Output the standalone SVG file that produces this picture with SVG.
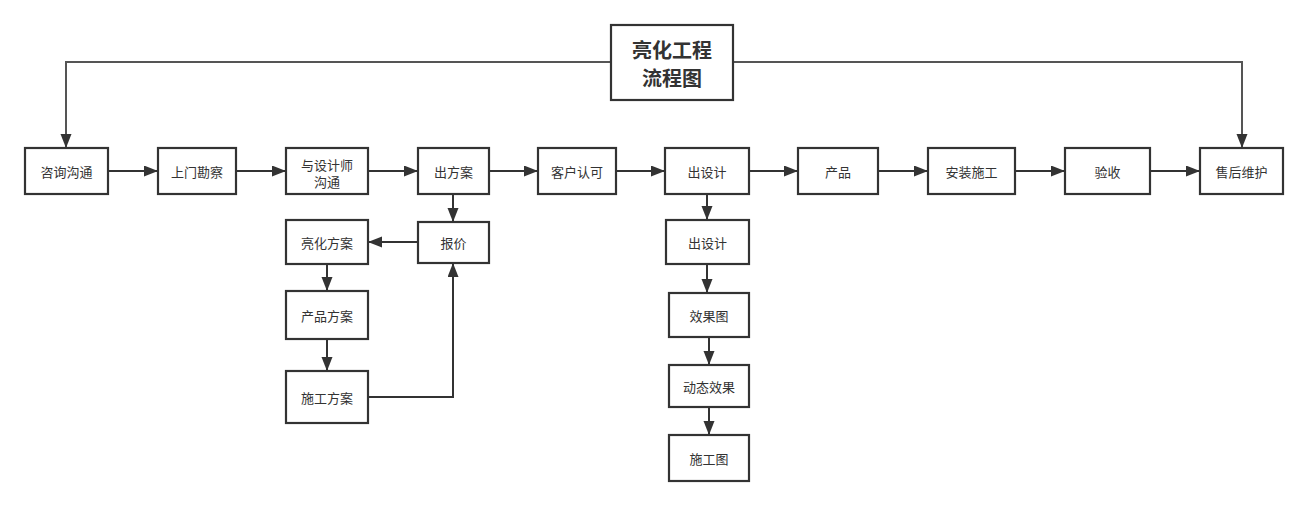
<svg xmlns="http://www.w3.org/2000/svg" width="1308" height="506" viewBox="0 0 1308 506">
<style>
.box{fill:#fff;stroke:#333;stroke-width:2.2}
.lbl{font-family:"Noto Sans CJK SC","Noto Sans",sans-serif;font-size:13px;fill:#333;text-anchor:middle;dominant-baseline:central}
.title{font-family:"Noto Sans CJK SC","Noto Sans",sans-serif;font-size:20px;font-weight:bold;fill:#333;text-anchor:middle;dominant-baseline:central}
.con{fill:none;stroke:#333;stroke-width:2;marker-end:url(#ah)}
.con2{fill:none;stroke:#555;stroke-width:2;marker-end:url(#ah)}
</style>
<defs>
<marker id="ah" markerUnits="userSpaceOnUse" markerWidth="15" markerHeight="12" refX="14" refY="5.5" orient="auto">
<path d="M0,0 L14,5.5 L0,11 z" fill="#333"/>
</marker>
</defs>
<rect width="1308" height="506" fill="#fff"/>
<g id="connectors">
<path class="con2" d="M611,62 H66 V148"/>
<path class="con2" d="M733,62 H1242 V148"/>
<path class="con" d="M108,171 H158"/>
<path class="con" d="M236,171 H286"/>
<path class="con" d="M368,171 H418"/>
<path class="con" d="M489,171 H538"/>
<path class="con" d="M616,171 H665"/>
<path class="con" d="M749,171 H798"/>
<path class="con" d="M878,171 H928"/>
<path class="con" d="M1015,171 H1065"/>
<path class="con" d="M1150,171 H1200"/>
<path class="con" d="M453,194 V222"/>
<path class="con" d="M418,242 H368"/>
<path class="con" d="M327,264 V291"/>
<path class="con" d="M327,339 V371"/>
<path class="con" d="M368,397 H453 V263"/>
<path class="con" d="M707,194 V220"/>
<path class="con" d="M707,264 V293"/>
<path class="con" d="M709,337 V365"/>
<path class="con" d="M709,407 V435"/>
</g>
<g id="title"><rect class="box" x="611" y="25" width="122" height="75"/><text class="title" x="672" y="49">亮化工程</text><text class="title" x="672" y="77">流程图</text></g>
<g id="n1"><rect class="box" x="25" y="148" width="83" height="46"/><text class="lbl" x="66.5" y="171">咨询沟通</text></g>
<g id="n2"><rect class="box" x="158" y="148" width="78" height="46"/><text class="lbl" x="197" y="171">上门勘察</text></g>
<g id="n3"><rect class="box" x="286" y="148" width="82" height="46"/><text class="lbl" x="327" y="164">与设计师</text><text class="lbl" x="327" y="181">沟通</text></g>
<g id="n4"><rect class="box" x="418" y="148" width="71" height="46"/><text class="lbl" x="453.5" y="171">出方案</text></g>
<g id="n5"><rect class="box" x="538" y="148" width="78" height="46"/><text class="lbl" x="577" y="171">客户认可</text></g>
<g id="n6"><rect class="box" x="665" y="148" width="84" height="46"/><text class="lbl" x="707" y="171">出设计</text></g>
<g id="n7"><rect class="box" x="798" y="148" width="80" height="46"/><text class="lbl" x="838" y="171">产品</text></g>
<g id="n8"><rect class="box" x="928" y="148" width="87" height="46"/><text class="lbl" x="971.5" y="171">安装施工</text></g>
<g id="n9"><rect class="box" x="1065" y="148" width="85" height="46"/><text class="lbl" x="1107.5" y="171">验收</text></g>
<g id="n10"><rect class="box" x="1200" y="148" width="83" height="46"/><text class="lbl" x="1241.5" y="171">售后维护</text></g>
<g id="n11"><rect class="box" x="418" y="222" width="71" height="41"/><text class="lbl" x="453.5" y="242.5">报价</text></g>
<g id="n12"><rect class="box" x="286" y="220" width="82" height="44"/><text class="lbl" x="327" y="242">亮化方案</text></g>
<g id="n13"><rect class="box" x="286" y="291" width="82" height="48"/><text class="lbl" x="327" y="315">产品方案</text></g>
<g id="n14"><rect class="box" x="286" y="371" width="82" height="52"/><text class="lbl" x="327" y="397">施工方案</text></g>
<g id="n15"><rect class="box" x="666" y="220" width="83" height="44"/><text class="lbl" x="707.5" y="242">出设计</text></g>
<g id="n16"><rect class="box" x="669" y="293" width="80" height="44"/><text class="lbl" x="709" y="315">效果图</text></g>
<g id="n17"><rect class="box" x="669" y="365" width="80" height="42"/><text class="lbl" x="709" y="386">动态效果</text></g>
<g id="n18"><rect class="box" x="669" y="435" width="80" height="46"/><text class="lbl" x="709" y="458">施工图</text></g>
</svg>
